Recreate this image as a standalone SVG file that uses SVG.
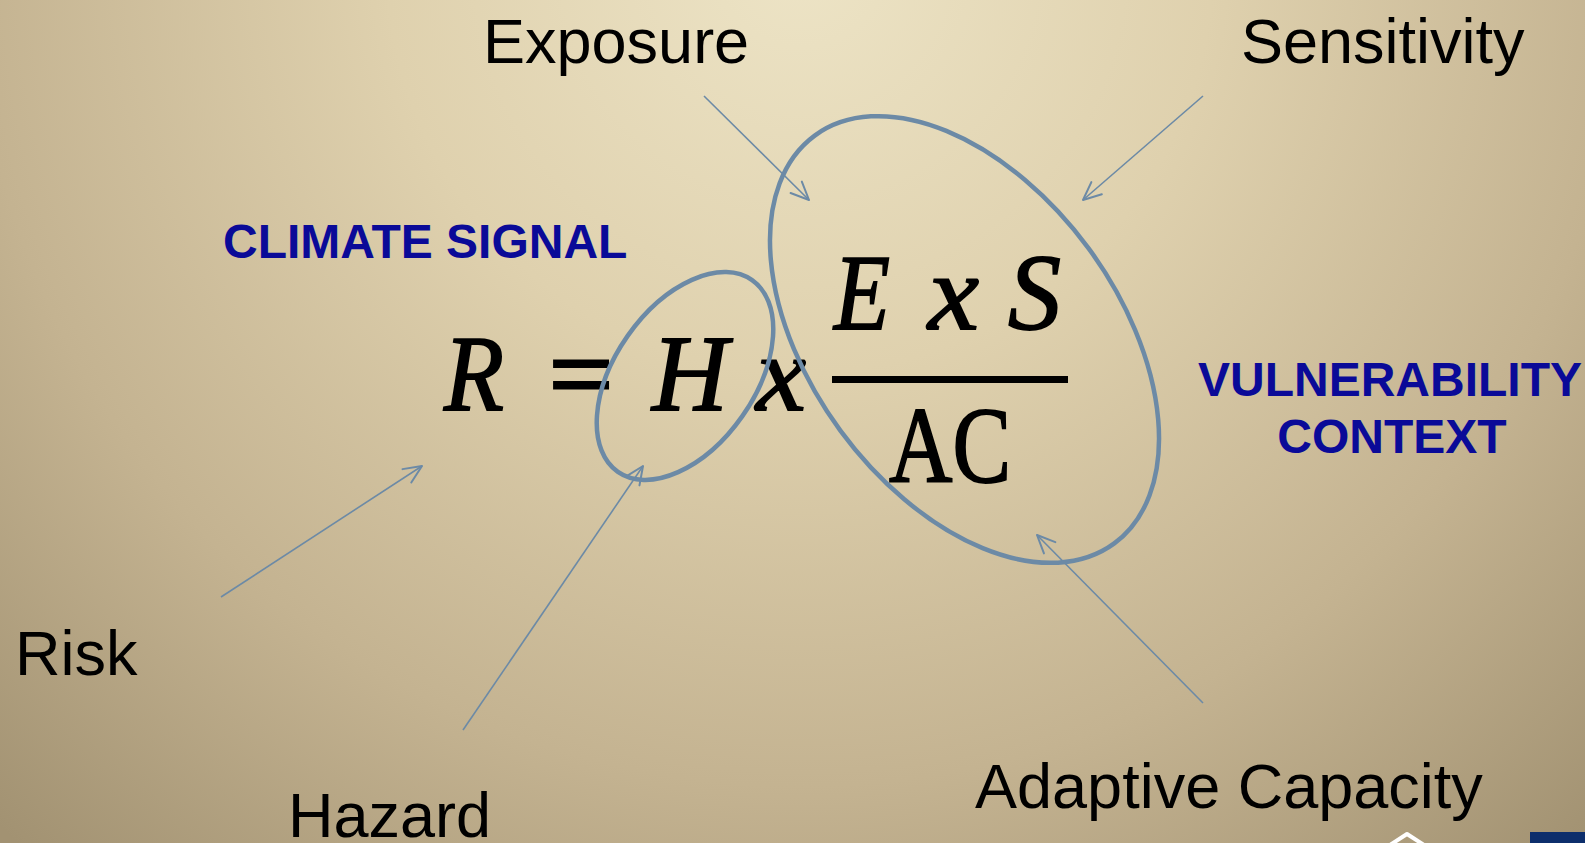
<svg xmlns="http://www.w3.org/2000/svg" width="1585" height="843" viewBox="0 0 1585 843">
  <defs>
    <radialGradient id="bg" gradientUnits="userSpaceOnUse" cx="800" cy="-40" r="1180">
      <stop offset="0" stop-color="#ede4c6"/>
      <stop offset="0.35" stop-color="#dfd1ae"/>
      <stop offset="0.7" stop-color="#c4b391"/>
      <stop offset="1" stop-color="#a29272"/>
    </radialGradient>
    <marker id="arr" markerUnits="userSpaceOnUse" viewBox="-22 -11 26 22" refX="0" refY="0" markerWidth="26" markerHeight="22" orient="auto">
      <path d="M -18 -8 L 0 0 L -18 8" fill="none" stroke="#6c8aa6" stroke-width="2" stroke-linecap="round" stroke-linejoin="round"/>
    </marker>
    <style>
      .lbl { font-family: "Liberation Sans", Arial, sans-serif; font-size: 63px; fill: #000; }
      .blue { font-family: "Liberation Sans", Arial, sans-serif; font-size: 48px; font-weight: bold; fill: #0a0a98; }
      .math { font-family: "Liberation Serif", "Times New Roman", serif; font-size: 108px; fill: #000; stroke: #000; stroke-width: 1.8; }
      .it { font-style: italic; }
      .ring { fill: none; stroke: #6c8aa6; stroke-width: 4.5; }
      .conn { fill: none; stroke: #6c8aa6; stroke-width: 1.6; marker-end: url(#arr); }
    </style>
  </defs>

  <rect x="0" y="0" width="1585" height="843" fill="url(#bg)"/>

  <g id="formula">
    <text class="math it" x="444" y="410" textLength="60" lengthAdjust="spacingAndGlyphs">R</text>
    <text class="math" x="549" y="410" textLength="64" lengthAdjust="spacingAndGlyphs" style="stroke-width:3">=</text>
    <text class="math it" x="652" y="410" textLength="76" lengthAdjust="spacingAndGlyphs">H</text>
    <text class="math it" x="756" y="410" textLength="50" lengthAdjust="spacingAndGlyphs">x</text>
    <text class="math it" x="834" y="329" textLength="56" lengthAdjust="spacingAndGlyphs">E</text>
    <text class="math it" x="928" y="329" textLength="51" lengthAdjust="spacingAndGlyphs">x</text>
    <text class="math it" x="1008" y="329" textLength="53" lengthAdjust="spacingAndGlyphs">S</text>
    <rect x="832" y="376" width="236" height="7" fill="#000"/>
    <text class="math" x="889" y="482" textLength="122" lengthAdjust="spacingAndGlyphs">AC</text>
  </g>

  <g id="hazard-ring">
    <ellipse class="ring" cx="0" cy="0" rx="117" ry="70" transform="translate(685 376) rotate(-55)"/>
  </g>
  <g id="vulnerability-ring">
    <ellipse class="ring" cx="0" cy="0" rx="253" ry="154" transform="translate(964.5 339.5) rotate(53.7)"/>
  </g>

  <g id="exposure"><text class="lbl" x="483" y="63">Exposure</text></g>
  <g id="sensitivity"><text class="lbl" x="1241" y="63">Sensitivity</text></g>
  <g id="risk"><text class="lbl" x="15" y="675">Risk</text></g>
  <g id="hazard"><text class="lbl" x="288" y="837">Hazard</text></g>
  <g id="adaptive-capacity"><text class="lbl" x="975" y="808">Adaptive Capacity</text></g>
  <g id="climate-signal"><text class="blue" x="223" y="258">CLIMATE SIGNAL</text></g>
  <g id="vulnerability-context">
    <text class="blue" x="1390" y="396" text-anchor="middle">VULNERABILITY</text>
    <text class="blue" x="1392" y="453" text-anchor="middle">CONTEXT</text>
  </g>

  <g id="connectors">
    <line class="conn" x1="704" y1="96" x2="809" y2="200"/>
    <line class="conn" x1="1203" y1="96" x2="1083" y2="200"/>
    <line class="conn" x1="221" y1="597" x2="422" y2="466"/>
    <line class="conn" x1="463" y1="730" x2="643" y2="466"/>
    <line class="conn" x1="1203" y1="703" x2="1037" y2="535"/>
  </g>

  <g id="footer">
    <rect x="1530" y="832" width="55" height="11" fill="#0d2e6c"/>
    <path d="M 1390 845 L 1407 834 L 1424 845" fill="none" stroke="#ffffff" stroke-width="4" stroke-linejoin="round"/>
  </g>
</svg>
